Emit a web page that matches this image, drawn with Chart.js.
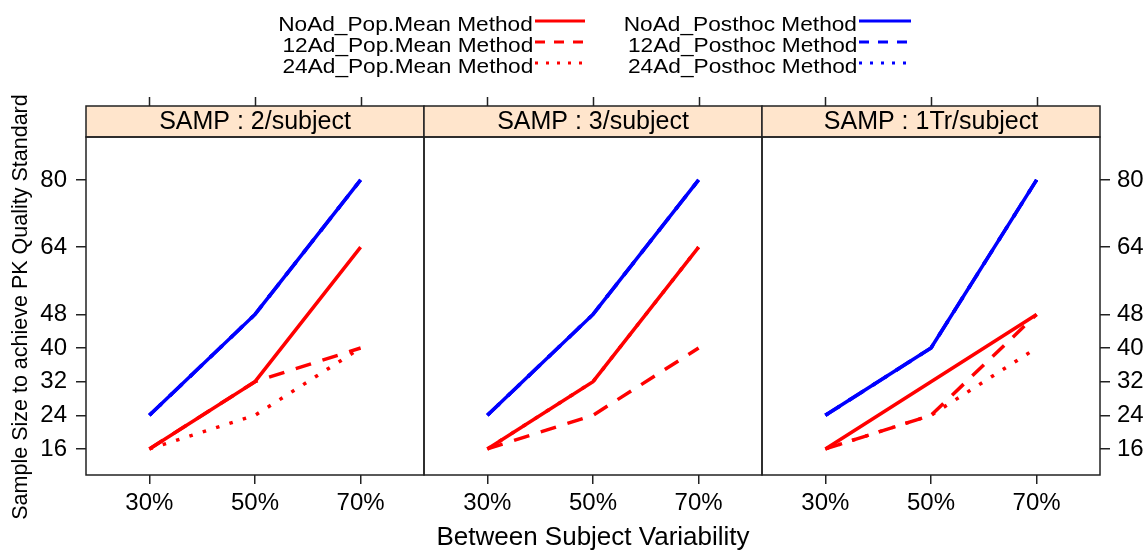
<!DOCTYPE html>
<html>
<head>
<meta charset="utf-8">
<script src="https://cdn.jsdelivr.net/npm/chart.js@4/dist/chart.umd.min.js"></script>
<style>
  body { margin: 0; background: #fff; }
  #wrap { position: relative; width: 1148px; height: 550px; overflow: hidden;
          font-family: "Liberation Sans", Arial, sans-serif; color: #000; }
  #wrap canvas { position: absolute; left: 0; top: 0; }
  .lg { position: absolute; font-size: 21px; line-height: 21px; white-space: nowrap;
        transform: scaleX(1.08); transform-origin: right center; }
  #legendLines { position: absolute; left: 0; top: 0; }
  #xtitle { position: absolute; left: 393px; width: 400px; top: 521px; text-align: center;
            font-size: 26px; line-height: 30px; white-space: nowrap; }
  #ytitle { position: absolute; left: -195px; top: 295px; width: 430px; text-align: center;
            font-size: 21.5px; line-height: 24px; white-space: nowrap; transform: rotate(-90deg); }
</style>
</head>
<body>
<div id="wrap">
  <canvas id="p0" width="1148" height="550"></canvas>
  <canvas id="p1" width="1148" height="550"></canvas>
  <canvas id="p2" width="1148" height="550"></canvas>
  <svg id="legendLines" width="1148" height="80"></svg>
  <div id="xtitle">Between Subject Variability</div>
  <div id="ytitle">Sample Size to achieve PK Quality Standard</div>
</div>
<script>
const xValues = [30, 50, 70];
const xLabels = ['30%', '50%', '70%'];
const yTicks = [16, 24, 32, 40, 48, 64, 80];
const panelNames = ['SAMP : 2/subject', 'SAMP : 3/subject', 'SAMP : 1Tr/subject'];

// one row per panel, values at 30% / 50% / 70%
const noAdPopMean = [[16, 32, 64], [16, 32, 64], [16, 32, 48]];
const ad12PopMean = [[16, 32, 40], [16, 24, 40], [16, 24, 48]];
const ad24PopMean = [[16, 24, 40], [16, 32, 64], [16, 24, 40]];
const noAdPosthoc = [[24, 48, 80], [24, 48, 80], [24, 40, 80]];
const ad12Posthoc = [[24, 48, 80], [24, 48, 80], [24, 40, 80]];
const ad24Posthoc = [[24, 48, 80], [24, 48, 80], [24, 40, 80]];

const RED = '#ff0000', BLUE = '#0000ff';
const DASH = [16, 12], DOT = [3.5, 10.5];

const series = [
  { name: 'NoAd_Pop.Mean Method', data: noAdPopMean, color: RED, dash: [], order: 0 },
  { name: '12Ad_Pop.Mean Method', data: ad12PopMean, color: RED, dash: DASH, order: 1 },
  { name: '24Ad_Pop.Mean Method', data: ad24PopMean, color: RED, dash: DOT, order: 2 },
  { name: 'NoAd_Posthoc Method', data: noAdPosthoc, color: BLUE, dash: [], order: 0 },
  { name: '12Ad_Posthoc Method', data: ad12Posthoc, color: BLUE, dash: DASH, order: 1 },
  { name: '24Ad_Posthoc Method', data: ad24Posthoc, color: BLUE, dash: DOT, order: 2 }
];

// panel borders in page pixels
const edges = [86, 424, 762, 1100];
const plotTop = 137, stripH = 31, bottomAxisH = 75;
const fontFamily = '"Liberation Sans", Arial, sans-serif';
const frameColor = '#222';

// strip, frame and the top tick marks, lattice style
const panelFrame = {
  id: 'panelFrame',
  afterDraw(chart, args, opts) {
    const { ctx, chartArea: a } = chart;
    const x = chart.scales.x;
    ctx.save();
    ctx.fillStyle = '#ffe5cc';
    ctx.fillRect(a.left, a.top - stripH, a.right - a.left, stripH);
    ctx.strokeStyle = frameColor;
    ctx.lineWidth = 1.5;
    ctx.strokeRect(a.left, a.top - stripH, a.right - a.left, stripH);
    ctx.strokeRect(a.left, a.top, a.right - a.left, a.bottom - a.top);
    ctx.beginPath();
    xValues.forEach(v => {
      const px = Math.round(x.getPixelForValue(v)) + 0.5;
      ctx.moveTo(px, a.top - stripH);
      ctx.lineTo(px, a.top - stripH - 9);
    });
    ctx.stroke();
    ctx.fillStyle = '#000';
    ctx.font = '25px ' + fontFamily;
    ctx.textAlign = 'center';
    ctx.textBaseline = 'middle';
    ctx.fillText(opts.label, (a.left + a.right) / 2, a.top - stripH / 2 + 1);
    ctx.restore();
  }
};

function makePanel(i) {
  const first = i === 0, last = i === 2;
  const yWidth = first ? edges[0] : (last ? 1148 - edges[3] : 0);
  const tickGrid = { display: true, drawOnChartArea: false, drawTicks: true,
                     tickLength: 9, color: frameColor, lineWidth: 1.5 };
  new Chart(document.getElementById('p' + i), {
    type: 'line',
    data: {
      datasets: series.map(s => ({
        label: s.name,
        data: xValues.map((x, k) => ({ x: x, y: s.data[i][k] })),
        borderColor: s.color,
        borderWidth: 3.5,
        borderDash: s.dash,
        borderCapStyle: 'butt',
        pointRadius: 0,
        fill: false,
        tension: 0,
        order: s.order
      }))
    },
    options: {
      responsive: false,
      animation: false,
      devicePixelRatio: 1,
      layout: {
        padding: {
          left: first ? 0 : edges[i],
          right: last ? 0 : 1148 - edges[i + 1],
          top: plotTop,
          bottom: 0
        }
      },
      scales: {
        x: {
          type: 'linear',
          min: 18,
          max: 82,
          afterBuildTicks: s => { s.ticks = xValues.map(v => ({ value: v })); },
          afterFit: s => { s.height = bottomAxisH; },
          ticks: {
            callback: v => xLabels[xValues.indexOf(v)],
            font: { family: fontFamily, size: 24 },
            color: '#000',
            padding: 5,
            maxRotation: 0,
            autoSkip: false
          },
          grid: tickGrid,
          border: { display: false }
        },
        y: {
          display: i !== 1,
          position: last ? 'right' : 'left',
          min: 9.8,
          max: 90.2,
          afterBuildTicks: s => { s.ticks = yTicks.map(v => ({ value: v })); },
          afterFit: s => { s.width = yWidth; },
          ticks: {
            font: { family: fontFamily, size: 24 },
            color: '#000',
            padding: last ? 7 : 9,
            autoSkip: false
          },
          grid: Object.assign({}, tickGrid, { tickLength: 10 }),
          border: { display: false }
        }
      },
      plugins: {
        legend: { display: false },
        tooltip: { enabled: false },
        panelFrame: { label: panelNames[i] }
      }
    },
    plugins: [panelFrame]
  });
}

[0, 1, 2].forEach(makePanel);

// legend: two columns, text right-aligned with a line sample after it
const wrap = document.getElementById('wrap');
const svg = document.getElementById('legendLines');
const legendTextRight = [533, 857];
const legendLineX = [[535, 585], [859, 911]];
const legendRowY = [21, 42, 63];
series.forEach((s, k) => {
  const col = Math.floor(k / 3), row = k % 3;
  const div = document.createElement('div');
  div.className = 'lg';
  div.textContent = s.name;
  div.style.right = (1148 - legendTextRight[col]) + 'px';
  div.style.top = (legendRowY[row] - 8) + 'px';
  wrap.appendChild(div);
  const line = document.createElementNS('http://www.w3.org/2000/svg', 'line');
  line.setAttribute('x1', legendLineX[col][0]);
  line.setAttribute('x2', legendLineX[col][1]);
  line.setAttribute('y1', legendRowY[row]);
  line.setAttribute('y2', legendRowY[row]);
  line.setAttribute('stroke', s.color);
  line.setAttribute('stroke-width', 3);
  if (s.dash === DASH) line.setAttribute('stroke-dasharray', '10 9');
  if (s.dash === DOT) line.setAttribute('stroke-dasharray', '3 8');
  svg.appendChild(line);
});
</script>
</body>
</html>
